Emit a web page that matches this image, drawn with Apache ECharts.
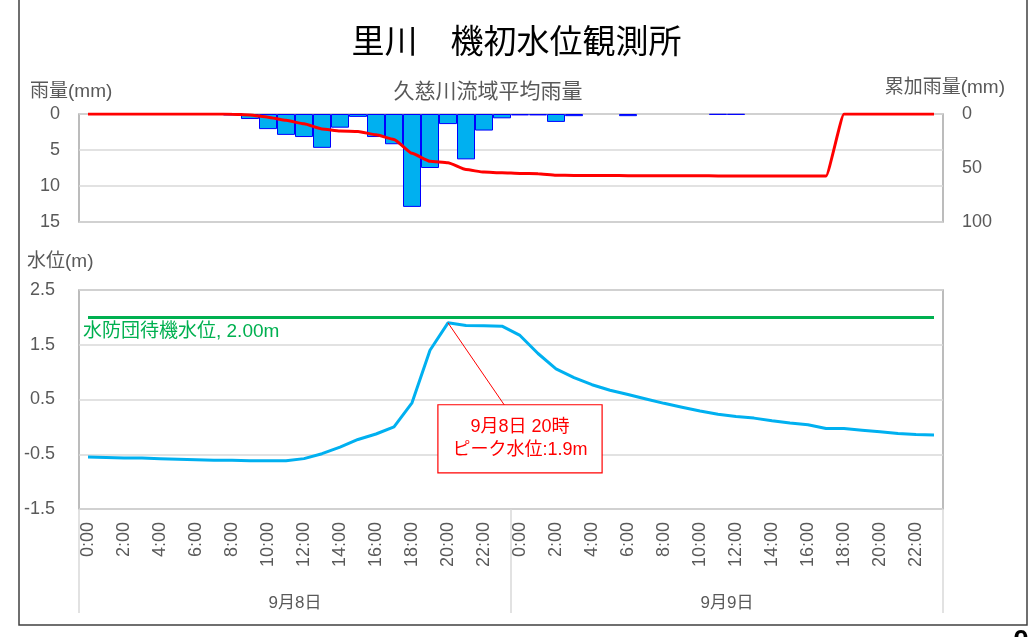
<!DOCTYPE html>
<html>
<head>
<meta charset="utf-8">
<script src="https://cdn.jsdelivr.net/npm/echarts@6/dist/echarts.min.js"></script>
<style>
html,body{margin:0;padding:0;background:#fff;}
#chart{width:1033px;height:637px;}
</style>
</head>
<body>
<div id="chart"></div>
<script>
// ---- data ----
const hourLabels = ['0:00','1:00','2:00','3:00','4:00','5:00','6:00','7:00','8:00','9:00','10:00','11:00',
  '12:00','13:00','14:00','15:00','16:00','17:00','18:00','19:00','20:00','21:00','22:00','23:00'];
const dayLabels = ['9月8日', '9月9日'];
const categories = hourLabels.concat(hourLabels);

// hourly basin-average rainfall (mm)
const rainfall = [0,0,0,0,0,0,0,0,0.2,0.7,2.1,2.9,3.2,4.7,1.9,0.4,3.2,4.2,12.9,7.5,1.4,6.3,2.3,0.6,
  0.2,0.2,1.1,0.3,0,0,0.3,0,0,0,0,0.1,0.1,0,0,0,0,0,0,0,0,0,0,0];
// cumulative rainfall (mm)
const cumulative = [0,0,0,0,0,0,0,0,0.2,0.9,3.0,5.9,9.1,13.8,15.7,16.1,19.3,23.5,36.4,43.8,45.2,51.5,53.8,54.4,
  55.0,55.3,56.6,56.9,56.9,56.9,57.2,57.2,57.2,57.2,57.2,57.3,57.4,57.4,57.4,57.4,57.4,57.4,0,0,0,0,0,0];
// water level (m)
const waterLevel = [-0.55,-0.56,-0.57,-0.57,-0.58,-0.59,-0.60,-0.61,-0.61,-0.62,-0.62,-0.62,-0.58,-0.49,-0.37,-0.23,-0.13,0.00,0.44,1.40,1.90,1.85,1.845,1.84,
  1.67,1.34,1.06,0.90,0.77,0.67,0.59,0.51,0.43,0.36,0.29,0.23,0.19,0.16,0.11,0.07,0.04,-0.03,-0.03,-0.06,-0.09,-0.12,-0.14,-0.15];
// standby water level (m)
const standbyLevel = [2.0,2.0,2.0,2.0,2.0,2.0,2.0,2.0,2.0,2.0,2.0,2.0,2.0,2.0,2.0,2.0,2.0,2.0,2.0,2.0,2.0,2.0,2.0,2.0,
  2.0,2.0,2.0,2.0,2.0,2.0,2.0,2.0,2.0,2.0,2.0,2.0,2.0,2.0,2.0,2.0,2.0,2.0,2.0,2.0,2.0,2.0,2.0,2.0];
const peakIndex = 20;
const peakValue = 1.9;
const peakText = '9月8日 20時\nピーク水位:1.9m';
const standbyText = '水防団待機水位, 2.00m';

const FONT = "'Liberation Sans', 'Noto Sans CJK JP', sans-serif";
const GRAY = '#595959';

const chart = echarts.init(document.getElementById('chart'), null, {renderer: 'canvas'});
const option = {
  animation: false,
  backgroundColor: '#fff',
  textStyle: {fontFamily: FONT},
  grid: [
    {left: 79, right: 90, top: 114, height: 108, show: true, borderColor: '#a6a6a6', borderWidth: 1.5, containLabel: false},
    {left: 79, right: 90, top: 290, height: 219, show: true, borderColor: '#a6a6a6', borderWidth: 1.5, containLabel: false}
  ],
  xAxis: [
    {type: 'category', gridIndex: 0, data: categories, boundaryGap: true,
      axisLine: {show: false}, axisTick: {show: false}, axisLabel: {show: false}, splitLine: {show: false}},
    {type: 'category', gridIndex: 1, data: categories, boundaryGap: true, position: 'bottom',
      axisLine: {show: false}, axisTick: {show: false}, splitLine: {show: false},
      axisLabel: {interval: 1, rotate: 90, margin: 13, color: GRAY, fontSize: 18, fontFamily: FONT}},
    {type: 'category', gridIndex: 1, data: dayLabels, boundaryGap: true, position: 'bottom',
      axisLine: {show: false}, splitLine: {show: false},
      axisTick: {show: true, length: 104, lineStyle: {color: '#d9d9d9', width: 1.5}},
      axisLabel: {margin: 86, color: GRAY, fontSize: 17, fontFamily: FONT}}
  ],
  yAxis: [
    {type: 'value', gridIndex: 0, min: 0, max: 15, interval: 5, inverse: true,
      axisLine: {show: false}, axisTick: {show: false},
      axisLabel: {margin: 19, color: GRAY, fontSize: 18, fontFamily: FONT},
      splitLine: {lineStyle: {color: '#d9d9d9', width: 1.5}}},
    {type: 'value', gridIndex: 0, min: 0, max: 100, interval: 50, inverse: true, position: 'right',
      axisLine: {show: false}, axisTick: {show: false},
      axisLabel: {margin: 19, color: GRAY, fontSize: 18, fontFamily: FONT},
      splitLine: {show: false}},
    {type: 'value', gridIndex: 1, min: -1.5, max: 2.5, interval: 1,
      axisLine: {show: false}, axisTick: {show: false},
      axisLabel: {margin: 24, color: GRAY, fontSize: 18, fontFamily: FONT, formatter: v => v.toFixed(1)},
      splitLine: {lineStyle: {color: '#d9d9d9', width: 1.5}}}
  ],
  series: [
    {name: '雨量', type: 'bar', xAxisIndex: 0, yAxisIndex: 0,
      data: rainfall.map(v => (v === 0 ? null : v)),
      barCategoryGap: '0%', itemStyle: {color: '#00B0F0', borderColor: '#0000FF', borderWidth: 1}, z: 2},
    {name: '累加雨量', type: 'line', xAxisIndex: 0, yAxisIndex: 1, data: cumulative,
      smooth: 0.15, smoothMonotone: 'x', symbol: 'none', lineStyle: {color: '#FF0000', width: 3}, z: 3},
    {name: '水防団待機水位', type: 'line', xAxisIndex: 1, yAxisIndex: 2, data: standbyLevel,
      symbol: 'none', lineStyle: {color: '#00B050', width: 3}, z: 3,
      markPoint: {silent: true, symbol: 'rect', symbolSize: 0, animation: false,
        data: [{coord: [0, standbyLevel[0]],
          label: {show: true, position: 'inside', align: 'left', verticalAlign: 'middle', offset: [-5, 14],
            formatter: standbyText, color: '#00B050', fontSize: 19, fontFamily: FONT}}]}},
    {name: '水位', type: 'line', xAxisIndex: 1, yAxisIndex: 2, data: waterLevel,
      symbol: 'none', lineStyle: {color: '#00B0F0', width: 3}, z: 4,
      markLine: {silent: true, symbol: 'none', animation: false,
        lineStyle: {color: '#FF0000', width: 1, type: 'solid'}, label: {show: false},
        data: [[{coord: [peakIndex, peakValue]}, {x: 505, y: 406}]]},
      markPoint: {silent: true, symbol: 'rect', symbolSize: 0, animation: false,
        data: [{coord: [peakIndex, peakValue],
          label: {show: true, position: 'inside', offset: [72, 116], formatter: peakText,
            color: '#FF0000', fontSize: 18, fontFamily: FONT, lineHeight: 23, align: 'center',
            backgroundColor: '#fff', borderColor: '#FF0000', borderWidth: 1.2,
            width: 147, height: 55, padding: [6, 8]}}]}}
  ],
  graphic: [
    {type: 'rect', shape: {x: 19, y: -5, width: 1008, height: 630}, style: {fill: 'none', stroke: '#404040', lineWidth: 1.5}, silent: true},
    {type: 'text', left: 'center', top: 24, style: {text: '里川　機初水位観測所', font: "33px 'Noto Sans CJK JP', sans-serif", fill: '#000'}},
    {type: 'text', x: 488, y: 92, style: {text: '久慈川流域平均雨量', font: "21px " + FONT, fill: GRAY, align: 'center', verticalAlign: 'middle'}},
    {type: 'text', x: 30, y: 92, style: {text: '雨量(mm)', font: "19px " + FONT, fill: GRAY, align: 'left', verticalAlign: 'middle'}},
    {type: 'text', x: 1005, y: 88, style: {text: '累加雨量(mm)', font: "19px " + FONT, fill: GRAY, align: 'right', verticalAlign: 'middle'}},
    {type: 'text', x: 27, y: 262, style: {text: '水位(m)', font: "19px " + FONT, fill: GRAY, align: 'left', verticalAlign: 'middle'}},
    {type: 'text', x: 1021, y: 641, style: {text: '0', font: "bold 28px 'Liberation Sans', sans-serif", fill: '#000', align: 'center', verticalAlign: 'middle'}}
  ]
};
chart.setOption(option);
</script>
</body>
</html>
